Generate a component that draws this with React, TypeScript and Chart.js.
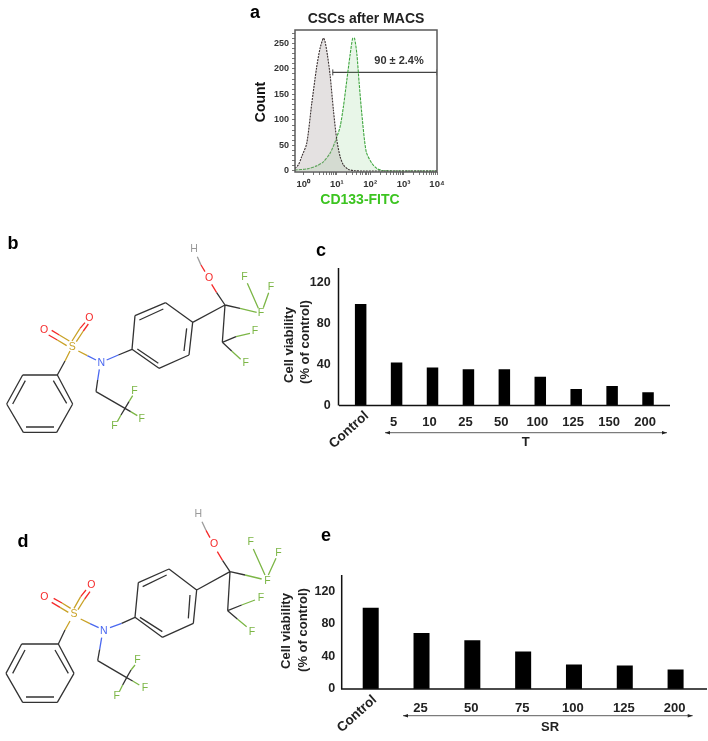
import React, { useEffect, useRef } from "react";
import { Chart, registerables } from "chart.js";

Chart.register(...registerables);

const FONT = '"Liberation Sans", Arial, sans-serif';

// Panel a: flow cytometry histogram
const isotypeX = [0.562, 0.71, 0.89, 1.26, 1.78, 2.51, 3.16, 3.98, 4.47, 5.25, 6.31, 7.94, 10, 12.6, 15.8, 22.4, 35.5, 60, 10000];
const isotypeY = [5, 12, 28, 54, 132, 204, 240, 260, 253, 227, 188, 119, 61, 28, 12, 3, 0.5, 0, 0];
const cd133X = [0.562, 1.26, 2.51, 3.98, 6.31, 8.9, 12.6, 15.8, 20, 25, 30, 33.9, 39.8, 46.8, 56, 75.9, 112, 158, 251, 10000];
const cd133Y = [2, 4, 10, 18, 35, 57, 87, 126, 178, 227, 260, 260, 230, 172, 113, 38, 15, 5, 0.5, 0];
const gateX = [7.6, 10000];
const gateY = [193, 193];
const histDecades = [1, 10, 100, 1000, 10000];
const histMinorX = [2, 3, 4, 5, 6, 7, 8, 9, 20, 30, 40, 50, 60, 70, 80, 90, 200, 300, 400, 500, 600, 700, 800, 900, 2000, 3000, 4000, 5000, 6000, 7000, 8000, 9000];
const histMajorY = [0, 50, 100, 150, 200, 250];
const histMinorY = [10, 20, 30, 40, 60, 70, 80, 90, 110, 120, 130, 140, 160, 170, 180, 190, 210, 220, 230, 240, 260, 270];

// Panel c
const cCategories = ["Control", "5", "10", "25", "50", "100", "125", "150", "200"];
const cValues = [99, 42, 37, 35.3, 35.3, 28, 16, 19, 13];
// Panel e
const eCategories = ["Control", "25", "50", "75", "100", "125", "200"];
const eValues = [100, 69, 60, 46, 30, 29, 24];
const barTicks = [0, 40, 80, 120];

type Seg = number[];
type Atom = [string, number, number, string];
const BOND = "#333333", GOLD = "#c9a227", RED = "#f52a2a", BLUE = "#4a68f0", GREEN = "#7cb646", GREY = "#9a9a9a";

// Panel b structure
const bBlack: Seg[] = [
  [68, 450, 172, 450], [172, 450, 218, 537], [218, 537, 170, 622], [170, 622, 70, 622], [70, 622, 20, 537], [20, 537, 68, 450],
  [38, 537, 76, 467], [160, 467, 200, 535], [78, 606, 162, 606], [172, 450, 195, 408],
  [355, 390, 396, 373], [396, 373, 405, 272], [405, 272, 497, 233], [497, 233, 578, 292], [578, 292, 567, 390], [567, 390, 477, 430], [477, 430, 396, 373],
  [418, 285, 490, 252], [560, 310, 552, 378], [475, 415, 412, 372],
  [578, 292, 675, 240], [675, 240, 650, 203], [675, 240, 667, 352], [667, 352, 708, 335], [667, 352, 695, 378], [675, 240, 720, 250],
  [293, 465, 288, 500], [288, 500, 375, 550], [375, 550, 387, 530], [375, 550, 392, 560], [375, 550, 363, 570],
];
const bGold: Seg[] = [[195, 408, 210, 378], [200, 362, 172, 345], [208, 348, 178, 330], [216, 348, 240, 310], [229, 350, 250, 318], [235, 378, 262, 392]];
const bRed: Seg[] = [[172, 345, 146, 330], [178, 330, 155, 316], [240, 310, 255, 293], [250, 318, 265, 297], [650, 203, 635, 178], [615, 140, 603, 120]];
const bBlue: Seg[] = [[262, 392, 288, 405], [320, 405, 355, 390], [298, 433, 293, 465]];
const bGreen: Seg[] = [[708, 335, 750, 325], [695, 378, 722, 403], [720, 250, 770, 262], [742, 175, 775, 250], [806, 203, 790, 248], [387, 530, 398, 512], [392, 560, 412, 572], [363, 570, 352, 590]];
const bGrey: Seg[] = [[603, 120, 592, 95]];
const bAtoms: Atom[] = [
  ["S", 217, 365, GOLD], ["O", 132, 316, RED], ["O", 268, 280, RED], ["N", 304, 415, BLUE], ["O", 627, 160, RED], ["H", 582, 73, GREY],
  ["F", 733, 155, GREEN], ["F", 813, 185, GREEN], ["F", 783, 265, GREEN], ["F", 765, 317, GREEN], ["F", 737, 415, GREEN],
  ["F", 403, 497, GREEN], ["F", 425, 581, GREEN], ["F", 343, 604, GREEN],
];

// Panel d structure
const dBlack: Seg[] = [
  [65, 447, 175, 447], [175, 447, 222, 535], [222, 535, 172, 622], [172, 622, 68, 622], [68, 622, 18, 535], [18, 535, 65, 447],
  [38, 535, 75, 465], [165, 465, 205, 535], [78, 606, 162, 606], [175, 447, 195, 405],
  [365, 385, 405, 367], [405, 367, 415, 263], [415, 263, 507, 222], [507, 222, 590, 285], [590, 285, 580, 385], [580, 385, 487, 427], [487, 427, 405, 367],
  [428, 275, 500, 240], [570, 300, 565, 370], [487, 410, 420, 367],
  [590, 285, 690, 230], [690, 230, 668, 197], [690, 230, 683, 347], [683, 347, 725, 330], [683, 347, 712, 372], [690, 230, 735, 240],
  [299, 463, 293, 497], [293, 497, 380, 548], [380, 548, 393, 525], [380, 548, 398, 558], [380, 548, 368, 570],
];
const dGold: Seg[] = [[195, 405, 210, 378], [205, 352, 180, 337], [212, 340, 186, 324], [222, 340, 242, 305], [234, 344, 254, 312], [242, 372, 270, 386]];
const dRed: Seg[] = [[180, 337, 155, 322], [186, 324, 161, 310], [242, 305, 258, 285], [254, 312, 270, 290], [668, 197, 652, 170], [630, 128, 618, 106]];
const dBlue: Seg[] = [[270, 386, 296, 398], [330, 398, 365, 385], [305, 428, 299, 463]];
const dGreen: Seg[] = [[725, 330, 765, 315], [712, 372, 740, 395], [735, 240, 785, 252], [760, 162, 795, 240], [828, 190, 805, 240], [393, 525, 405, 510], [398, 558, 418, 570], [368, 570, 358, 590]];
const dGrey: Seg[] = [[618, 106, 606, 80]];
const dAtoms: Atom[] = [
  ["S", 222, 358, GOLD], ["O", 133, 307, RED], ["O", 274, 270, RED], ["N", 311, 408, BLUE], ["O", 642, 148, RED], ["H", 595, 58, GREY],
  ["F", 752, 141, GREEN], ["F", 835, 173, GREEN], ["F", 802, 257, GREEN], ["F", 783, 308, GREEN], ["F", 756, 410, GREEN],
  ["F", 412, 494, GREEN], ["F", 435, 580, GREEN], ["F", 350, 603, GREEN],
];

type Txt = { s: string; x: number; y: number; font: string; color: string; rot?: number };

function drawTexts(ctx: CanvasRenderingContext2D, left: number, top: number, items: Txt[]) {
  items.forEach((t) => {
    ctx.save();
    ctx.translate(t.x - left, t.y - top);
    if (t.rot) ctx.rotate((t.rot * Math.PI) / 180);
    ctx.font = t.font;
    ctx.fillStyle = t.color;
    ctx.textAlign = "center";
    ctx.textBaseline = "middle";
    ctx.fillText(t.s, 0, 0);
    ctx.restore();
  });
}

const canvasStyle = (l: number, t: number, w: number, h: number): React.CSSProperties => ({
  position: "absolute", left: l, top: t, width: w, height: h, display: "block",
});

function useChart(make: (c: HTMLCanvasElement) => Chart) {
  const ref = useRef<HTMLCanvasElement>(null);
  useEffect(() => {
    const chart = make(ref.current as HTMLCanvasElement);
    return () => chart.destroy();
  }, []);
  return ref;
}

function Histogram() {
  const L = 245, T = 5, W = 205, H = 205;
  const sup: Record<string, string> = { "0": "⁰", "1": "¹", "2": "²", "3": "³", "4": "⁴" };
  const ref = useChart((c) =>
    new Chart(c, {
      type: "scatter",
      data: {
        datasets: [
          {
            data: isotypeX.map((x, i) => ({ x, y: isotypeY[i] })), showLine: true, tension: 0.25, pointRadius: 0,
            borderColor: "#3a3030", borderWidth: 1.1, borderDash: [2, 1], fill: "origin", backgroundColor: "rgba(165,155,155,0.3)",
          },
          {
            data: cd133X.map((x, i) => ({ x, y: cd133Y[i] })), showLine: true, tension: 0.25, pointRadius: 0,
            borderColor: "#3fa63f", borderWidth: 1.1, borderDash: [3, 1], fill: "origin", backgroundColor: "rgba(110,200,110,0.16)",
          },
          {
            data: gateX.map((x, i) => ({ x, y: gateY[i] })), showLine: true, borderColor: "#444", borderWidth: 1.2,
            pointStyle: "line", rotation: 90, pointRadius: 3, pointBorderColor: "#444", pointBorderWidth: 1,
          },
        ],
      } as any,
      options: {
        responsive: false, animation: false, devicePixelRatio: 1,
        layout: { padding: { top: 25, right: 13, left: 0, bottom: 0 } },
        plugins: { legend: { display: false }, tooltip: { enabled: false } },
        scales: {
          x: {
            type: "logarithmic", min: 0.562, max: 10000,
            afterFit: (s: any) => { s.height = 38; },
            afterBuildTicks: (s: any) => { s.ticks = [...histDecades, ...histMinorX].sort((a, b) => a - b).map((value) => ({ value })); },
            grid: { drawOnChartArea: false, drawTicks: true, tickLength: 3, color: "#777" },
            border: { display: false },
            ticks: {
              autoSkip: false, maxRotation: 0, minRotation: 0, padding: 4, color: "#333",
              font: { family: FONT, size: 9.5, weight: "bold" },
              callback: (v: any) => (histDecades.includes(Number(v)) ? "10" + sup[String(Math.round(Math.log10(Number(v))))] : ""),
            },
          },
          y: {
            min: -2, max: 276,
            afterFit: (s: any) => { s.width = 50; },
            afterBuildTicks: (s: any) => { s.ticks = [...histMajorY, ...histMinorY].sort((a, b) => a - b).map((value) => ({ value })); },
            grid: { drawOnChartArea: false, drawTicks: true, tickLength: 3, color: "#777" },
            border: { display: false },
            ticks: {
              autoSkip: false, padding: 3, color: "#333",
              font: { family: FONT, size: 9, weight: "bold" },
              callback: (v: any) => (histMajorY.includes(Number(v)) ? String(v) : ""),
            },
          },
        },
      } as any,
      plugins: [{
        id: "frameAndText",
        afterDraw(chart: any) {
          const { ctx, chartArea: a } = chart;
          ctx.save();
          ctx.strokeStyle = "#5a5a5a";
          ctx.lineWidth = 1.5;
          ctx.strokeRect(a.left, a.top, a.right - a.left, a.bottom - a.top);
          ctx.restore();
          drawTexts(ctx, L, T, [
            { s: "CSCs after MACS", x: 366, y: 19, font: `bold 14px ${FONT}`, color: "#222" },
            { s: "Count", x: 261, y: 102, font: `bold 14px ${FONT}`, color: "#111", rot: -90 },
            { s: "CD133-FITC", x: 360, y: 200, font: `bold 14px ${FONT}`, color: "#3cc420" },
            { s: "90 ± 2.4%", x: 399, y: 61, font: `bold 11px ${FONT}`, color: "#333" },
          ]);
        },
      }],
    })
  );
  return <canvas ref={ref} width={W} height={H} style={canvasStyle(L, T, W, H)} />;
}

type BarProps = {
  L: number; T: number; W: number; H: number;
  categories: string[]; values: number[]; max: number; yWidth: number; xHeight: number; padRight: number;
  barPct: number; tickPad: number; xPad: number; labelOffset: number;
  axisX0: number; axisX1: number; axisTop: number; axisX: number;
  texts: Txt[]; arrow: [number, number, number]; control: [number, number];
};

function Bars(p: BarProps) {
  const ref = useChart((c) =>
    new Chart(c, {
      type: "bar",
      data: {
        labels: p.categories,
        datasets: [{ data: p.values, backgroundColor: "#000", barPercentage: p.barPct, categoryPercentage: 1 }],
      },
      options: {
        responsive: false, animation: false, devicePixelRatio: 1,
        layout: { padding: { top: 10, right: p.padRight, left: 0, bottom: 0 } },
        plugins: { legend: { display: false }, tooltip: { enabled: false } },
        scales: {
          x: {
            afterFit: (s: any) => { s.height = p.xHeight; },
            grid: { display: false, drawTicks: false },
            border: { display: false },
            ticks: {
              autoSkip: false, maxRotation: 0, minRotation: 0, padding: p.xPad, labelOffset: p.labelOffset, color: "#222",
              font: { family: FONT, size: 13, weight: "bold" },
              callback: (_v: any, i: number) => (i === 0 ? "" : p.categories[i]),
            },
          },
          y: {
            min: 0, max: p.max,
            afterFit: (s: any) => { s.width = p.yWidth; },
            afterBuildTicks: (s: any) => { s.ticks = barTicks.map((value) => ({ value })); },
            grid: { display: false, drawTicks: false },
            border: { display: false },
            ticks: { padding: p.tickPad, color: "#222", font: { family: FONT, size: 12.5, weight: "bold" } },
          },
        },
      } as any,
      plugins: [{
        id: "axesAndText",
        afterDraw(chart: any) {
          const { ctx, chartArea: a } = chart;
          ctx.save();
          ctx.strokeStyle = "#111";
          ctx.lineWidth = 1.5;
          ctx.beginPath();
          ctx.moveTo(p.axisX - p.L, p.axisTop - p.T);
          ctx.lineTo(p.axisX - p.L, a.bottom);
          ctx.moveTo(p.axisX0 - p.L, a.bottom);
          ctx.lineTo(p.axisX1 - p.L, a.bottom);
          ctx.stroke();
          const [x0, x1, y] = p.arrow;
          const yy = y - p.T, xa = x0 - p.L, xb = x1 - p.L;
          ctx.lineWidth = 0.8;
          ctx.strokeStyle = "#333";
          ctx.fillStyle = "#222";
          ctx.beginPath();
          ctx.moveTo(xa, yy);
          ctx.lineTo(xb, yy);
          ctx.stroke();
          ctx.beginPath();
          ctx.moveTo(xa, yy); ctx.lineTo(xa + 5, yy - 1.8); ctx.lineTo(xa + 5, yy + 1.8); ctx.closePath();
          ctx.moveTo(xb, yy); ctx.lineTo(xb - 5, yy - 1.8); ctx.lineTo(xb - 5, yy + 1.8); ctx.closePath();
          ctx.fill();
          ctx.restore();
          drawTexts(ctx, p.L, p.T, [
            ...p.texts,
            { s: p.categories[0], x: p.control[0], y: p.control[1], font: `bold 13.5px ${FONT}`, color: "#222", rot: -42 },
          ]);
        },
      }],
    })
  );
  return <canvas ref={ref} width={p.W} height={p.H} style={canvasStyle(p.L, p.T, p.W, p.H)} />;
}

type StructureProps = { L: number; T: number; bonds: [Seg[], string][]; atoms: Atom[] };

function Structure({ L, T, bonds, atoms }: StructureProps) {
  const W = 300, H = 225;
  const ref = useChart((c) =>
    new Chart(c, {
      type: "scatter",
      data: {
        datasets: bonds.map(([segs, color]) => ({
          data: segs.flatMap((s) => [{ x: s[0], y: s[1] }, { x: s[2], y: s[3] }, { x: NaN, y: NaN }]),
          showLine: true, spanGaps: false, pointRadius: 0, borderColor: color, borderWidth: 1.3,
        })),
      } as any,
      options: {
        responsive: false, animation: false, devicePixelRatio: 1,
        layout: { padding: 0 },
        plugins: { legend: { display: false }, tooltip: { enabled: false } },
        scales: {
          x: { type: "linear", display: false, min: 0, max: 900 },
          y: { type: "linear", display: false, min: 0, max: 675, reverse: true },
        },
      } as any,
      plugins: [{
        id: "atoms",
        afterDraw(chart: any) {
          const { ctx, scales } = chart;
          drawTexts(ctx, 0, 0, atoms.map(([s, x, y, color]) => ({
            s, x: scales.x.getPixelForValue(x), y: scales.y.getPixelForValue(y), font: `10.5px ${FONT}`, color,
          })));
        },
      }],
    })
  );
  return <canvas ref={ref} width={W} height={H} style={canvasStyle(L, T, W, H)} />;
}

const letters: [string, number, number][] = [["a", 255, 14], ["b", 13, 245], ["c", 321, 252], ["d", 23, 543], ["e", 326, 537]];

export default function App() {
  return (
    <div style={{ position: "absolute", left: 0, top: 0, width: 708, height: 741, background: "#fff", overflow: "hidden" }}>
      <Histogram />
      <Structure L={0} T={225} atoms={bAtoms} bonds={[[bBlack, BOND], [bGold, GOLD], [bRed, RED], [bBlue, BLUE], [bGreen, GREEN], [bGrey, GREY]]} />
      <Structure L={0} T={495} atoms={dAtoms} bonds={[[dBlack, BOND], [dGold, GOLD], [dRed, RED], [dBlue, BLUE], [dGreen, GREEN], [dGrey, GREY]]} />
      <Bars
        L={270} T={258} W={410} H={202}
        categories={cCategories} values={cValues} max={125} yWidth={72.7} xHeight={54.5} padRight={14}
        barPct={0.32} tickPad={12} xPad={9} labelOffset={-3}
        axisX0={339} axisX1={670} axisTop={268} axisX={338.5}
        arrow={[385, 667, 432.7]} control={[349, 430]}
        texts={[
          { s: "T", x: 525.7, y: 442, font: `bold 13px ${FONT}`, color: "#222" },
          { s: "Cell viability", x: 289, y: 345, font: `bold 13px ${FONT}`, color: "#222", rot: -90 },
          { s: "(% of control)", x: 305, y: 342, font: `bold 13px ${FONT}`, color: "#222", rot: -90 },
        ]}
      />
      <Bars
        L={270} T={565} W={438} H={176}
        categories={eCategories} values={eValues} max={131} yWidth={75.3} xHeight={52} padRight={7}
        barPct={0.315} tickPad={10} xPad={12} labelOffset={-1}
        axisX0={341} axisX1={707} axisTop={575} axisX={341.7}
        arrow={[403, 692.7, 715.7]} control={[357, 714]}
        texts={[
          { s: "SR", x: 550, y: 727, font: `bold 13px ${FONT}`, color: "#222" },
          { s: "Cell viability", x: 286, y: 631, font: `bold 13px ${FONT}`, color: "#222", rot: -90 },
          { s: "(% of control)", x: 303, y: 630, font: `bold 13px ${FONT}`, color: "#222", rot: -90 },
        ]}
      />
      {letters.map(([s, x, y]) => (
        <div key={s} style={{ position: "absolute", left: x - 10, top: y - 12, width: 20, height: 24, lineHeight: "24px", textAlign: "center", font: `bold 18px ${FONT}`, color: "#000" }}>
          {s}
        </div>
      ))}
    </div>
  );
}
